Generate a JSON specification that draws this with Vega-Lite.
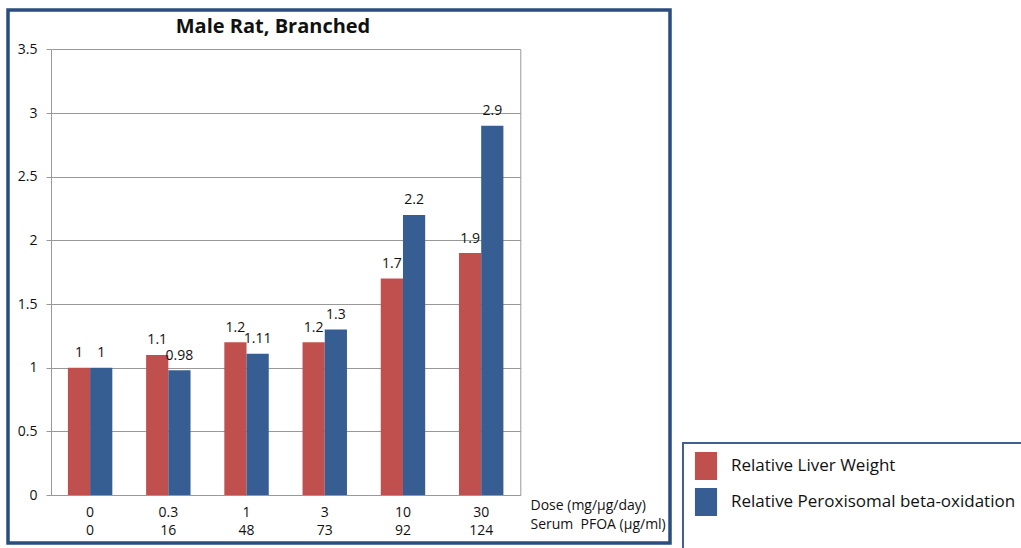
{
  "$schema": "https://vega.github.io/schema/vega-lite/v6.json",
  "width": 662,
  "height": 533,
  "autosize": "none",
  "padding": {"left": 8, "top": 10, "right": 351, "bottom": 5},
  "background": "white",
  "title": {
    "text": "Male Rat, Branched",
    "anchor": "middle",
    "frame": "group",
    "font": "Open Sans",
    "fontSize": 20,
    "fontWeight": "bold",
    "color": "#111111",
    "baseline": "middle",
    "offset": 0,
    "dx": -66,
    "dy": 37
  },
  "data": {
    "values": [
      {"category": "0|0", "series": "Relative Liver Weight", "value": 1},
      {"category": "0|0", "series": "Relative Peroxisomal beta-oxidation", "value": 1},
      {"category": "0.3|16", "series": "Relative Liver Weight", "value": 1.1},
      {"category": "0.3|16", "series": "Relative Peroxisomal beta-oxidation", "value": 0.98},
      {"category": "1|48", "series": "Relative Liver Weight", "value": 1.2},
      {"category": "1|48", "series": "Relative Peroxisomal beta-oxidation", "value": 1.11},
      {"category": "3|73", "series": "Relative Liver Weight", "value": 1.2},
      {"category": "3|73", "series": "Relative Peroxisomal beta-oxidation", "value": 1.3},
      {"category": "10|92", "series": "Relative Liver Weight", "value": 1.7},
      {"category": "10|92", "series": "Relative Peroxisomal beta-oxidation", "value": 2.2},
      {"category": "30|124", "series": "Relative Liver Weight", "value": 1.9},
      {"category": "30|124", "series": "Relative Peroxisomal beta-oxidation", "value": 2.9}
    ]
  },
  "encoding": {
    "x": {
      "field": "category",
      "type": "nominal",
      "sort": null,
      "scale": {"range": [43, 512.3], "paddingInner": 0.432, "paddingOuter": 0.216},
      "axis": {
        "orient": "bottom",
        "offset": -48,
        "labelAngle": 0,
        "labelExpr": "split(datum.label, '|')",
        "labelFont": "Open Sans",
        "labelFontSize": 14,
        "labelColor": "#111111",
        "labelLineHeight": 18,
        "labelPadding": 10,
        "ticks": false,
        "tickSize": 0,
        "domainColor": "#999999",
        "domainWidth": 1,
        "grid": false,
        "title": ["Dose (mg/µg/day)", "Serum\u00a0\u00a0PFOA (µg/ml)"],
        "titleX": 522,
        "titleY": 3,
        "titleAlign": "left",
        "titleBaseline": "top",
        "titleFont": "Open Sans",
        "titleFontSize": 14,
        "titleFontWeight": "normal",
        "titleColor": "#111111",
        "titleLineHeight": 19
      }
    },
    "xOffset": {"field": "series", "type": "nominal", "sort": null},
    "y": {
      "field": "value",
      "type": "quantitative",
      "scale": {"domain": [0, 3.5], "range": [485, 39.4], "nice": false}
    }
  },
  "layer": [
    {
      "mark": {"type": "bar"},
      "encoding": {
        "y": {
          "field": "value",
          "type": "quantitative",
          "axis": {
            "orient": "left",
            "offset": -43,
            "values": [0, 0.5, 1, 1.5, 2, 2.5, 3, 3.5],
            "format": "~g",
            "grid": true,
            "gridColor": "#999999",
            "gridWidth": 1,
            "domainColor": "#999999",
            "tickColor": "#999999",
            "tickSize": 5,
            "labelPadding": 9,
            "labelFont": "Open Sans",
            "labelFontSize": 14,
            "labelColor": "#111111",
            "title": null
          }
        },
        "color": {
          "field": "series",
          "type": "nominal",
          "scale": {
            "domain": ["Relative Liver Weight", "Relative Peroxisomal beta-oxidation"],
            "range": ["#C0504D", "#375E92"]
          },
          "legend": {
            "orient": "none",
            "legendX": 675,
            "legendY": 433,
            "padding": 9,
            "strokeColor": "#3D6192",
            "fillColor": "white",
            "title": " ",
            "titleOrient": "bottom",
            "titleFontSize": 14,
            "titlePadding": 30,
            "symbolType": "M-0.79,-1H0.79V1H-0.79Z",
            "symbolSize": 784,
            "symbolStrokeWidth": 0,
            "labelFont": "Open Sans",
            "labelFontSize": 17,
            "labelColor": "#111111",
            "labelOffset": 11,
            "labelLimit": 600,
            "rowPadding": 8,
            "encode": {
              "legend": {
                "update": {"strokeWidth": {"value": 2}}
              },
              "symbols": {
                "update": {
                  "fill": {"signal": "datum.value === 'Relative Liver Weight' ? '#C00000' : '#1F497D'"},
                  "opacity": {"value": 1}
                }
              }
            }
          }
        }
      }
    },
    {
      "mark": {"type": "text", "baseline": "middle", "dy": -14.5, "font": "Open Sans", "fontSize": 14, "color": "#111111"},
      "encoding": {
        "text": {"field": "value", "type": "quantitative", "format": "~g"},
        "y": {
          "field": "value",
          "type": "quantitative",
          "axis": {
            "orient": "right",
            "offset": -149.7,
            "grid": false,
            "labels": false,
            "ticks": false,
            "domainColor": "#999999",
            "title": null
          }
        }
      }
    }
  ],
  "resolve": {"axis": {"y": "independent"}},
  "config": {
    "view": {"stroke": "#2A4D7F", "strokeWidth": 3.5, "fill": "white"},
    "font": "Open Sans"
  }
}
